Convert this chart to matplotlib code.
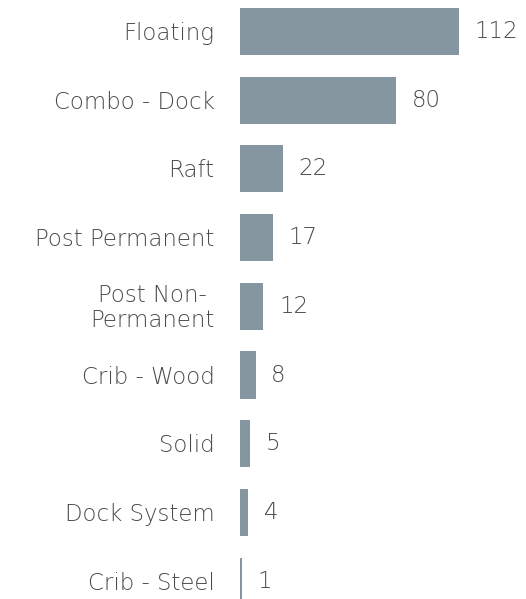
import matplotlib.pyplot as plt

categories = ["Floating", "Combo - Dock", "Raft", "Post Permanent",
              "Post Non-\nPermanent", "Crib - Wood", "Solid", "Dock System",
              "Crib - Steel"]
counts = [112, 80, 22, 17, 12, 8, 5, 4, 1]

bar_color = "#8696a0"
text_color = "#4a4a4a"

plt.rcParams['font.family'] = ['DejaVu Sans']

fig = plt.figure(figsize=(5.26, 5.99), dpi=100)
ax = fig.add_axes([240 / 526, 0, 286 / 526, 1])

ypos = range(len(categories))
ax.barh(ypos, counts, height=0.685, color=bar_color)

ax.set_xlim(0, 286 / 1.955)
ax.set_ylim((599 - 31.5) / 68.7, -31.5 / 68.7)

for y, v in zip(ypos, counts):
    ax.text(v + 8.0, y, str(v), va="center", ha="left",
            fontsize=16.5, color=text_color, fontweight="light")

for y, name in zip(ypos, categories):
    ax.text(-13, y + 0.03, name, va="center", ha="right",
            multialignment="center", fontsize=16.5, color=text_color,
            linespacing=1.1, fontweight="light")

ax.axis("off")

fig.savefig("out.png", dpi=100)
